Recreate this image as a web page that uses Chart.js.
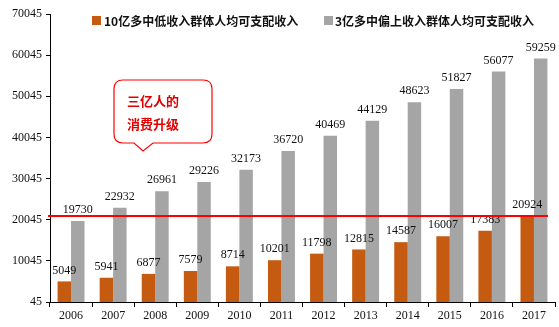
<!DOCTYPE html>
<html>
<head>
<meta charset="utf-8">
<script src="https://cdn.jsdelivr.net/npm/chart.js@4"></script>
<style>
  html, body { margin: 0; padding: 0; background: #fff; }
  #wrap { width: 559px; height: 327px; }
</style>
</head>
<body>
<div id="wrap"><canvas id="chart" width="559" height="327"></canvas></div>
<script>
// データ
const years = ['2006', '2007', '2008', '2009', '2010', '2011', '2012', '2013', '2014', '2015', '2016', '2017'];
const lowIncome = [5049, 5941, 6877, 7579, 8714, 10201, 11798, 12815, 14587, 16007, 17383, 20924];
const upperIncome = [19730, 22932, 26961, 29226, 32173, 36720, 40469, 44129, 48623, 51827, 56077, 59259];
const lowLabel = '10亿多中低收入群体人均可支配收入';
const upperLabel = '3亿多中偏上收入群体人均可支配收入';
const refLineValue = 20924;
const calloutLines = ['三亿人的', '消费升级'];

const orange = '#c55a11';
const gray = '#a5a5a5';
const red = '#ff0000';

// 数値ラベル・基準線・吹き出し・凡例
const overlayPlugin = {
    id: 'overlay',
    afterDatasetsDraw(chart) {
        const ctx = chart.ctx;
        const x = chart.scales.x;
        const y = chart.scales.y;
        const area = chart.chartArea;

        // 数値ラベル
        ctx.save();
        ctx.font = '12px "Liberation Serif"';
        ctx.fillStyle = '#111';
        ctx.textAlign = 'center';
        ctx.textBaseline = 'bottom';
        chart.data.datasets.forEach((ds, di) => {
            chart.getDatasetMeta(di).data.forEach((bar, i) => {
                ctx.fillText(String(ds.data[i]), bar.x, bar.y - 5);
            });
        });
        ctx.restore();

        // 基準線
        const ly = y.getPixelForValue(refLineValue);
        ctx.save();
        ctx.strokeStyle = red;
        ctx.lineWidth = 2;
        ctx.beginPath();
        ctx.moveTo(area.left - 2, ly);
        ctx.lineTo(x.getPixelForValue(years.length - 1) + 14, ly);
        ctx.stroke();
        ctx.restore();

        // 吹き出し
        const bx = 114, by = 80, bw = 98, bh = 63, r = 9;
        ctx.save();
        ctx.beginPath();
        ctx.moveTo(bx + r, by);
        ctx.lineTo(bx + bw - r, by);
        ctx.quadraticCurveTo(bx + bw, by, bx + bw, by + r);
        ctx.lineTo(bx + bw, by + bh - r);
        ctx.quadraticCurveTo(bx + bw, by + bh, bx + bw - r, by + bh);
        ctx.lineTo(bx + 39, by + bh);
        ctx.lineTo(bx + 29, by + bh + 8);
        ctx.lineTo(bx + 20, by + bh);
        ctx.lineTo(bx + r, by + bh);
        ctx.quadraticCurveTo(bx, by + bh, bx, by + bh - r);
        ctx.lineTo(bx, by + r);
        ctx.quadraticCurveTo(bx, by, bx + r, by);
        ctx.closePath();
        ctx.fillStyle = '#fff';
        ctx.fill();
        ctx.strokeStyle = red;
        ctx.lineWidth = 1.2;
        ctx.stroke();
        ctx.fillStyle = '#e00000';
        ctx.font = 'bold 13px "Noto Sans CJK SC"';
        ctx.textAlign = 'left';
        ctx.textBaseline = 'middle';
        ctx.fillText(calloutLines[0], 127, 101);
        ctx.fillText(calloutLines[1], 127, 124);
        ctx.restore();

        // 凡例
        ctx.save();
        ctx.font = 'bold 12px "Noto Sans CJK SC"';
        ctx.textBaseline = 'middle';
        ctx.textAlign = 'left';
        ctx.fillStyle = orange;
        ctx.fillRect(92, 16, 9, 9);
        ctx.fillStyle = gray;
        ctx.fillRect(324, 16, 9, 9);
        ctx.fillStyle = '#111';
        ctx.fillText(lowLabel, 104, 21);
        ctx.fillText(upperLabel, 335, 21);
        ctx.restore();
    }
};

const ctx = document.getElementById('chart').getContext('2d');
new Chart(ctx, {
    type: 'bar',
    data: {
        labels: years,
        datasets: [{
            label: lowLabel,
            data: lowIncome,
            backgroundColor: orange,
            categoryPercentage: 0.64,
            barPercentage: 1.0
        }, {
            label: upperLabel,
            data: upperIncome,
            backgroundColor: gray,
            categoryPercentage: 0.64,
            barPercentage: 1.0
        }]
    },
    options: {
        responsive: false,
        animation: false,
        devicePixelRatio: 1,
        layout: { padding: { top: 14, right: 4, left: 0, bottom: 0 } },
        plugins: {
            legend: { display: false },
            tooltip: { enabled: false }
        },
        scales: {
            x: {
                grid: {
                    drawOnChartArea: false,
                    color: '#000',
                    tickLength: 5,
                    offset: true
                },
                border: { color: '#000', width: 1 },
                ticks: {
                    font: { family: 'Liberation Serif', size: 12 },
                    color: '#111',
                    padding: 2,
                    maxRotation: 0
                },
                afterFit(scale) { scale.height = 25; }
            },
            y: {
                min: 45,
                max: 70045,
                grid: {
                    drawOnChartArea: false,
                    color: '#000',
                    tickLength: 4
                },
                border: { color: '#000', width: 1 },
                ticks: {
                    stepSize: 10000,
                    font: { family: 'Liberation Serif', size: 12 },
                    color: '#111',
                    padding: 4,
                    callback: function(value) {
                        return String(value);
                    }
                },
                afterFit(scale) { scale.width = 50; }
            }
        }
    },
    plugins: [overlayPlugin]
});
</script>
</body>
</html>
